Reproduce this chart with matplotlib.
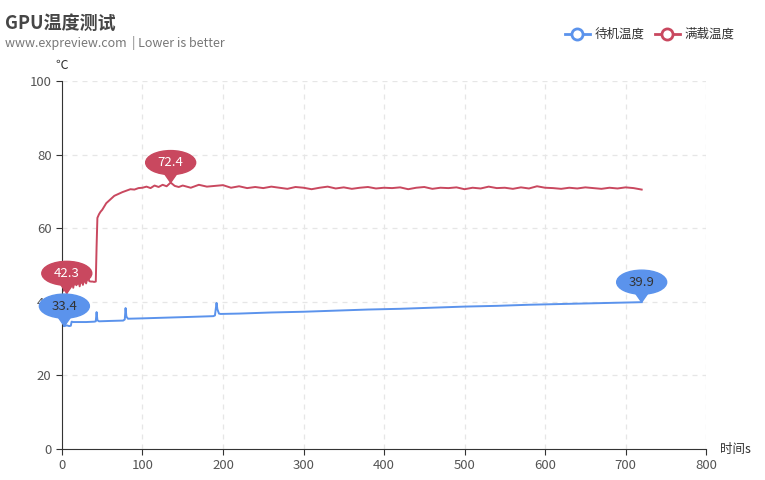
import matplotlib
matplotlib.use("Agg")
import matplotlib.pyplot as plt
from matplotlib.patches import Ellipse, Polygon
from matplotlib.transforms import Affine2D, ScaledTranslation

plt.rcParams['font.family'] = ['Noto Sans CJK SC', 'DejaVu Sans']

idle_t = [0, 3, 6, 9, 11, 12, 14, 20, 30, 40, 42, 43, 44, 46, 60, 76, 78, 79, 80, 82, 100, 130, 160, 188, 190, 191, 192, 193, 195, 197,
          220, 260, 300, 340, 380, 420, 460, 500, 540, 580, 620, 660, 700, 720]
idle_v = [33.5, 33.4, 33.6, 33.4, 33.5, 34.6, 34.5, 34.5, 34.5, 34.6, 34.7, 37.2, 35.0, 34.7, 34.8, 34.9, 35.2, 38.3, 36.0, 35.4,
          35.5, 35.7, 35.9, 36.1, 36.3, 38.0, 39.7, 38.0, 36.8, 36.7,
          36.8, 37.1, 37.3, 37.6, 37.9, 38.1, 38.4, 38.7, 38.9, 39.2, 39.4, 39.6, 39.8, 39.9]

load_t = [0, 2, 4, 6, 8, 10, 12, 14, 16, 18, 20, 22, 24, 26, 28, 30, 32, 34, 36, 38, 40, 42, 43, 44, 46, 48, 50, 55, 60, 65, 70, 75,
          80, 85, 90, 95, 100, 105, 110, 115, 120, 125, 130, 135, 140, 145, 150, 160, 170, 180, 190, 200, 210, 220, 230, 240,
          250, 260, 270, 280, 290, 300, 310, 320, 330, 340, 350, 360, 370, 380, 390, 400, 410, 420, 430, 440, 450, 460, 470,
          480, 490, 500, 510, 520, 530, 540, 550, 560, 570, 580, 590, 600, 610, 620, 630, 640, 650, 660, 670, 680, 690, 700, 710, 720]
load_v = [45.5, 43.0, 46.5, 42.3, 46.8, 44.0, 47.2, 43.8, 47.0, 44.5, 46.5, 44.2, 46.9, 44.6, 46.5, 45.0, 47.0, 45.6, 45.5, 45.5, 45.4, 45.5, 55.0, 62.8, 63.8, 64.5, 65.0, 66.8, 67.8, 68.8, 69.3, 69.8,
          70.2, 70.6, 70.5, 70.9, 71.0, 71.3, 70.9, 71.6, 71.2, 71.8, 71.4, 72.4, 71.5, 71.2, 71.6, 71.0, 71.8, 71.3, 71.5, 71.7, 71.0, 71.4, 70.9, 71.2,
          70.9, 71.3, 71.0, 70.7, 71.2, 71.0, 70.6, 71.0, 71.3, 70.8, 71.1, 70.7, 71.0, 71.2, 70.8, 71.0, 70.9, 71.1, 70.6, 71.0, 71.2, 70.7, 71.0,
          70.9, 71.1, 70.6, 71.0, 70.8, 71.3, 70.9, 71.0, 70.7, 71.1, 70.8, 71.4, 71.0, 70.9, 70.7, 71.0, 70.8, 71.1, 70.9, 70.7, 71.0, 70.8, 71.1, 70.9, 70.5]

pins_idle = [(3, 33.4, "33.4"), (720, 39.9, "39.9")]
pins_load = [(6, 42.3, "42.3"), (135, 72.4, "72.4")]

c_idle = '#5b93ec'
c_load = '#c9485f'

fig = plt.figure(figsize=(7.65, 4.8), dpi=100)
ax = fig.add_axes([0.081, 0.0646, 0.842, 0.7666])
ax.plot(idle_t, idle_v, color=c_idle, lw=1.4, label='待机温度')
ax.plot(load_t, load_v, color=c_load, lw=1.4, label='满载温度')
ax.set_xlim(0, 800)
ax.set_ylim(0, 100)
ax.set_xticks(range(0, 801, 100))
ax.set_yticks(range(0, 101, 20))
ax.grid(True, ls=(0, (4, 4)), color='#e6e6e6', lw=0.9)
for s in ['top', 'right']:
    ax.spines[s].set_visible(False)
for s in ['left', 'bottom']:
    ax.spines[s].set_color('#333333')
ax.tick_params(colors='#333333', labelcolor='#555555', labelsize=9.5, length=4)

def pin(x, y, txt, color, tc):
    tr = Affine2D() + ScaledTranslation(x, y, ax.transData)
    ax.add_patch(Ellipse((0, 20), 50, 24, transform=tr, color=color, zorder=5, clip_on=False))
    ax.add_patch(Polygon([(-7, 10), (7, 10), (0, 0)], transform=tr, color=color, zorder=5, clip_on=False))
    ax.text(0, 20, txt, transform=tr, ha='center', va='center', color=tc, fontsize=9.5, zorder=6)

for x, y, t in pins_load:
    pin(x, y, t, c_load, 'white')
for x, y, t in pins_idle:
    pin(x, y, t, c_idle, '#333333')

fig.text(0.006, 0.97, 'GPU温度测试', fontsize=13, fontweight='bold', color='#464646', va='top')
fig.text(0.006, 0.925, 'www.expreview.com  | Lower is better', fontsize=9, color='#777777', va='top')
fig.text(62 / 765, 1 - 65 / 480, '℃', fontsize=9, color='#333333', ha='center', va='center')
fig.text(720 / 765, 1 - 449 / 480, '时间s', fontsize=9, color='#333333', ha='left', va='center')

leg = fig.legend(handles=[plt.Line2D([], [], color=c_idle, lw=2, marker='o', ms=8, mfc='white', mew=2),
                          plt.Line2D([], [], color=c_load, lw=2, marker='o', ms=8, mfc='white', mew=2)],
                 labels=['待机温度', '满载温度'], loc='upper right', bbox_to_anchor=(0.975, 0.965), ncol=2,
                 frameon=False, fontsize=9, handlelength=2.0, columnspacing=0.8, handletextpad=0.4)
for t in leg.get_texts():
    t.set_color('#333333')

fig.savefig('out.png', dpi=100)
